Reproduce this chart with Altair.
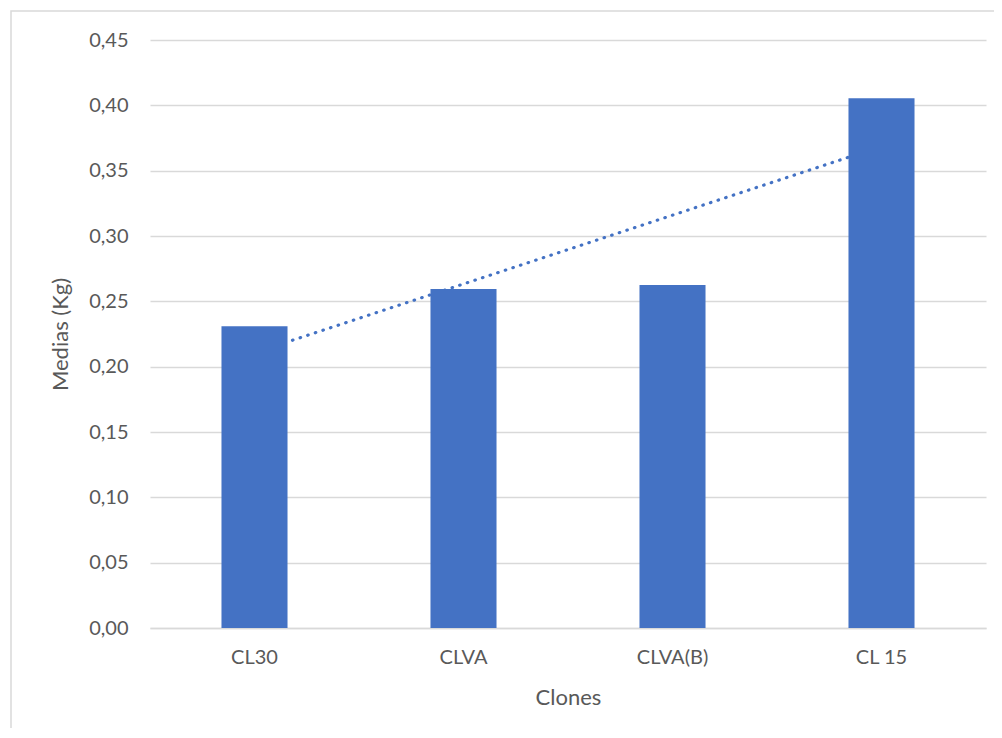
import altair as alt
import pandas as pd

clones = ["CL30", "CLVA", "CLVA(B)", "CL 15"]
medias = [0.231, 0.2595, 0.2625, 0.4055]
index = [1, 2, 3, 4]

df = pd.DataFrame({"Clones": clones, "Medias": medias, "idx": index})

FONT = "Lato"
GREY = "#595959"
BLUE = "#4472C4"

y_axis = alt.Axis(
    title="Medias (Kg)",
    values=[0, 0.05, 0.10, 0.15, 0.20, 0.25, 0.30, 0.35, 0.40, 0.45],
    labelExpr="replace(format(datum.value, '.2f'), '.', ',')",
    grid=True,
    gridColor="#D9D9D9",
    gridWidth=1.3,
    domain=False,
    ticks=False,
    labelPadding=22,
    titlePadding=16,
    labelFont=FONT,
    labelFontSize=20,
    labelColor=GREY,
    titleFont=FONT,
    titleFontSize=22,
    titleFontWeight="normal",
    titleColor=GREY,
)
y_scale = alt.Scale(domain=[0, 0.45], nice=False)

trend = (
    alt.Chart(df)
    .transform_regression("idx", "Medias", method="linear", extent=[1, 4])
    .mark_line(color=BLUE, strokeWidth=3.2, strokeDash=[0.5, 7.5], strokeCap="round")
    .encode(
        x=alt.X("idx:Q", scale=alt.Scale(domain=[0.5, 4.5], nice=False, zero=False), axis=None),
        y=alt.Y("Medias:Q", scale=y_scale, axis=y_axis),
    )
)

bars = (
    alt.Chart(df)
    .mark_bar(color=BLUE)
    .encode(
        x=alt.X(
            "Clones:N",
            sort=clones,
            scale=alt.Scale(paddingInner=0.684, paddingOuter=0.342),
            axis=alt.Axis(
                title="Clones",
                labelAngle=0,
                domainColor="#D9D9D9",
                domainWidth=1.3,
                ticks=False,
                labelPadding=19,
                titlePadding=20,
                labelFont=FONT,
                labelFontSize=20,
                labelColor=GREY,
                titleFont=FONT,
                titleFontSize=22,
                titleFontWeight="normal",
                titleColor=GREY,
            ),
        ),
        y=alt.Y("Medias:Q", scale=y_scale, axis=y_axis),
    )
)

border = (
    alt.Chart(pd.DataFrame({"a": [0]}))
    .mark_rect(fill=None, stroke="#D9D9D9", strokeWidth=1.5, clip=False)
    .encode(
        x=alt.value(-139),
        x2=alt.value(900),
        y=alt.value(-29),
        y2=alt.value(800),
    )
)

chart = (
    alt.layer(border, trend, bars)
    .resolve_scale(x="independent")
    .properties(
        width=836,
        height=588,
        autosize=alt.AutoSizeParams(type="none"),
        padding={"left": 142, "top": 32, "right": 8, "bottom": 100},
        background="white",
    )
    .configure_view(stroke=None)
)

chart.save("out.html", embed_options={"renderer": "svg", "actions": False})
